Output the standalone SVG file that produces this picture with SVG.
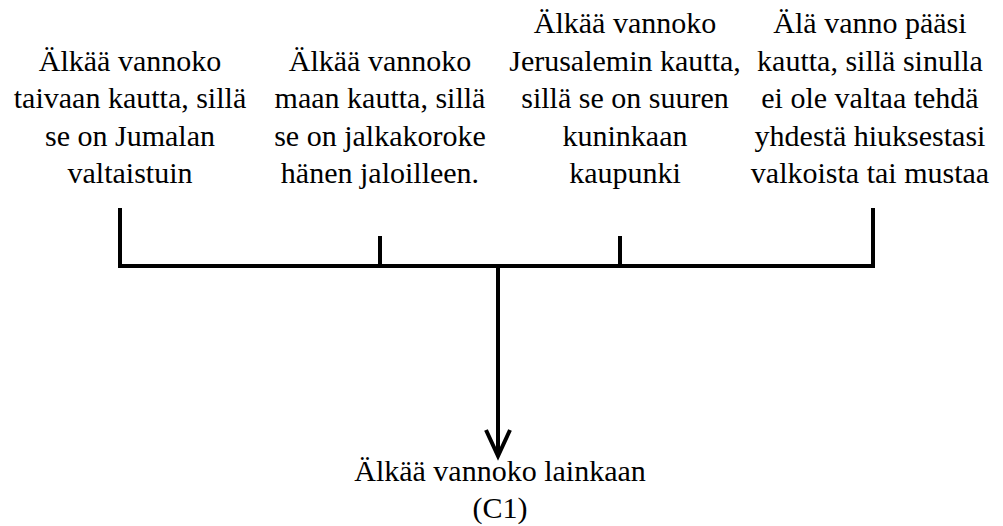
<svg xmlns="http://www.w3.org/2000/svg" width="1003" height="526" viewBox="0 0 1003 526">
<style>
text{font-family:'Liberation Serif','Times New Roman',serif;font-size:30px;fill:#000;text-anchor:middle}
.ln{stroke:#000;stroke-width:4;fill:none}
</style>
<rect width="1003" height="526" fill="#fff"/>
<g id="n1">
<text x="130" y="71">Älkää vannoko</text>
<text x="130" y="108">taivaan kautta, sillä</text>
<text x="130" y="146">se on Jumalan</text>
<text x="130" y="183">valtaistuin</text>
</g>
<g id="n2">
<text x="380" y="71">Älkää vannoko</text>
<text x="380" y="108">maan kautta, sillä</text>
<text x="380" y="146">se on jalkakoroke</text>
<text x="380" y="183">hänen jaloilleen.</text>
</g>
<g id="n3">
<text x="625" y="33">Älkää vannoko</text>
<text x="625" y="71">Jerusalemin kautta,</text>
<text x="625" y="108">sillä se on suuren</text>
<text x="625" y="146">kuninkaan</text>
<text x="625" y="183">kaupunki</text>
</g>
<g id="n4">
<text x="870" y="33">Älä vanno pääsi</text>
<text x="870" y="71">kautta, sillä sinulla</text>
<text x="870" y="108">ei ole valtaa tehdä</text>
<text x="870" y="146">yhdestä hiuksestasi</text>
<text x="870" y="183">valkoista tai mustaa</text>
</g>
<g id="n5">
<text x="500" y="481">Älkää vannoko lainkaan</text>
<text x="500" y="518">(C1)</text>
</g>
<g id="connectors">
<path class="ln" d="M120,208 V266 H873 V208"/>
<path class="ln" d="M380,236 V266"/>
<path class="ln" d="M620,236 V266"/>
<path class="ln" d="M498,266 V455"/>
<path class="ln" d="M486,430 L498,456 L510,430"/>
</g>
</svg>
